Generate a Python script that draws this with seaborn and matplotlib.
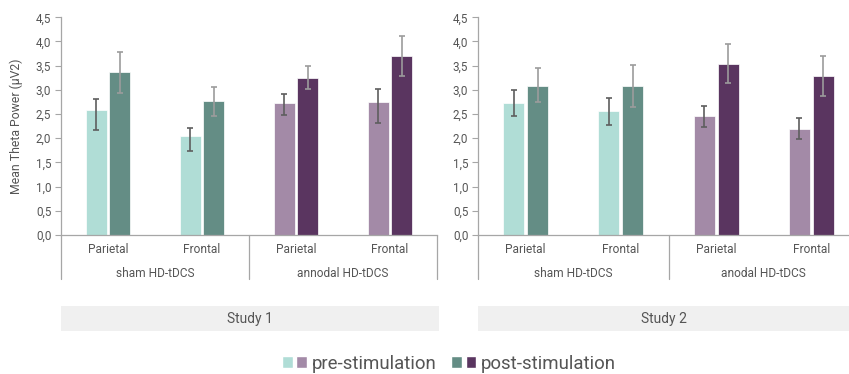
import pandas as pd
import seaborn as sns
import matplotlib.pyplot as plt
from matplotlib.patches import Patch, Rectangle
from matplotlib.legend_handler import HandlerTuple
import matplotlib.transforms as mtransforms

# datos
regions = ["Parietal", "Frontal"]
phases = ["pre-stimulation", "post-stimulation"]
studies = ["Study 1", "Study 2"]
groups_study1 = ["sham HD-tDCS", "annodal HD-tDCS"]
groups_study2 = ["sham HD-tDCS", "anodal HD-tDCS"]

study1_pre = [2.58, 2.04, 2.72, 2.75]
study1_pre_lo = [2.18, 1.74, 2.49, 2.32]
study1_pre_hi = [2.82, 2.22, 2.92, 3.02]
study1_post = [3.37, 2.77, 3.25, 3.71]
study1_post_lo = [2.94, 2.45, 3.02, 3.28]
study1_post_hi = [3.78, 3.06, 3.50, 4.12]

study2_pre = [2.72, 2.56, 2.47, 2.19]
study2_pre_lo = [2.45, 2.27, 2.24, 1.98]
study2_pre_hi = [3.00, 2.84, 2.67, 2.41]
study2_post = [3.08, 3.08, 3.53, 3.29]
study2_post_lo = [2.74, 2.65, 3.14, 2.87]
study2_post_hi = [3.46, 3.52, 3.94, 3.70]

y_ticks = [0, 0.5, 1, 1.5, 2, 2.5, 3, 3.5, 4, 4.5]
y_tick_labels = ["0,0", "0,5", "1,0", "1,5", "2,0", "2,5", "3,0", "3,5", "4,0", "4,5"]

# colores: (sham, anodal)
pre_colors = ["#b0ddd6", "#a38aa7"]
post_colors = ["#648d85", "#5a3560"]
err_colors = {"pre-stimulation": "#5e5e5e", "post-stimulation": "#9c9c9c"}
text_color = "#555555"
line_color = "#a6a6a6"

sns.set_style("white")
plt.rcParams['font.family'] = ['Roboto', 'DejaVu Sans']


def build_df(groups, pre, post):
    rows = []
    for phase, vals in zip(phases, [pre, post]):
        for i, v in enumerate(vals):
            g = groups[i // 2]
            r = regions[i % 2]
            rows.append({'slot': f"{g}|{r}", 'Fase': phase, 'valor': v})
    return pd.DataFrame(rows)


def panel(ax, groups, pre, pre_lo, pre_hi, post, post_lo, post_hi):
    df = build_df(groups, pre, post)
    order = [f"{g}|{r}" for g in groups for r in regions]
    sns.barplot(data=df, x='slot', y='valor', hue='Fase', order=order,
                hue_order=phases, width=0.5, gap=0.12, errorbar=None,
                ax=ax, legend=False, edgecolor='white', linewidth=0.5)

    lims = {"pre-stimulation": (pre, pre_lo, pre_hi),
            "post-stimulation": (post, post_lo, post_hi)}
    for phase, cont in zip(phases, ax.containers):
        vals, lo, hi = lims[phase]
        cols = pre_colors if phase == "pre-stimulation" else post_colors
        for i, bar in enumerate(cont):
            bar.set_facecolor(cols[i // 2])
            xc = bar.get_x() + bar.get_width() / 2
            ax.errorbar(xc, vals[i], yerr=[[vals[i] - lo[i]], [hi[i] - vals[i]]],
                        fmt='none', ecolor=err_colors[phase], elinewidth=1.2,
                        capsize=2.3, capthick=1.2, zorder=5)

    ax.set_ylim(0, 4.5)
    ax.set_xlim(-0.5, 3.5)
    ax.set_yticks(y_ticks)
    ax.set_yticklabels(y_tick_labels)
    ax.tick_params(axis='y', length=4, width=0.8, color=line_color,
                   labelsize=8.4, labelcolor=text_color, pad=3, left=True)
    ax.tick_params(axis='x', length=0, labelbottom=False)
    ax.set_xlabel('')
    ax.set_ylabel('')
    sns.despine(ax=ax, top=True, right=True)
    for s in ['left', 'bottom']:
        ax.spines[s].set_color(line_color)
        ax.spines[s].set_linewidth(0.9)

    # etiquetas de categorias en dos niveles
    trans = mtransforms.blended_transform_factory(ax.transData, ax.transAxes)
    for i in range(4):
        ax.text(i, -0.068, regions[i % 2], transform=trans, ha='center',
                va='center', fontsize=8.6, color=text_color)
    for j, g in enumerate(groups):
        ax.text(0.5 + 2 * j, -0.175, g, transform=trans, ha='center',
                va='center', fontsize=8.6, color=text_color)
    for xs in [-0.5, 1.5, 3.5]:
        ax.plot([xs, xs], [0, -0.2], transform=trans, color=line_color,
                lw=0.9, clip_on=False)


fig = plt.figure(figsize=(8.49, 3.74), dpi=100)
ax1 = fig.add_axes([61 / 849, 139 / 374, 376 / 849, 217.7 / 374])
ax2 = fig.add_axes([478 / 849, 139 / 374, 381 / 849, 217.7 / 374])

panel(ax1, groups_study1, study1_pre, study1_pre_lo, study1_pre_hi,
      study1_post, study1_post_lo, study1_post_hi)
panel(ax2, groups_study2, study2_pre, study2_pre_lo, study2_pre_hi,
      study2_post, study2_post_lo, study2_post_hi)

ax1.set_ylabel('Mean Theta Power (µV2)', fontsize=8.8, color=text_color, labelpad=9)

# cajas de estudio
for (x0, x1), name in zip([(61, 439), (478, 849)], studies):
    fig.patches.append(Rectangle((x0 / 849, 43 / 374), (x1 - x0) / 849, 25 / 374,
                                 transform=fig.transFigure, facecolor='#f0f0f0',
                                 edgecolor='none', zorder=0))
    fig.text((x0 + x1) / 2 / 849, 55.5 / 374, name, ha='center', va='center',
             fontsize=10, color=text_color)

# leyenda
handles = [(Patch(facecolor=pre_colors[0]), Patch(facecolor=pre_colors[1])),
           (Patch(facecolor=post_colors[0]), Patch(facecolor=post_colors[1]))]
fig.legend(handles, phases, loc='center', bbox_to_anchor=(449 / 849, 10 / 374),
           ncol=2, frameon=False, fontsize=13.4, labelcolor=text_color,
           handler_map={tuple: HandlerTuple(ndivide=None, pad=0.2)},
           handlelength=1.34, handleheight=0.62, handletextpad=0.25,
           columnspacing=0.8, borderaxespad=0)

fig.savefig('out.png', dpi=100)
